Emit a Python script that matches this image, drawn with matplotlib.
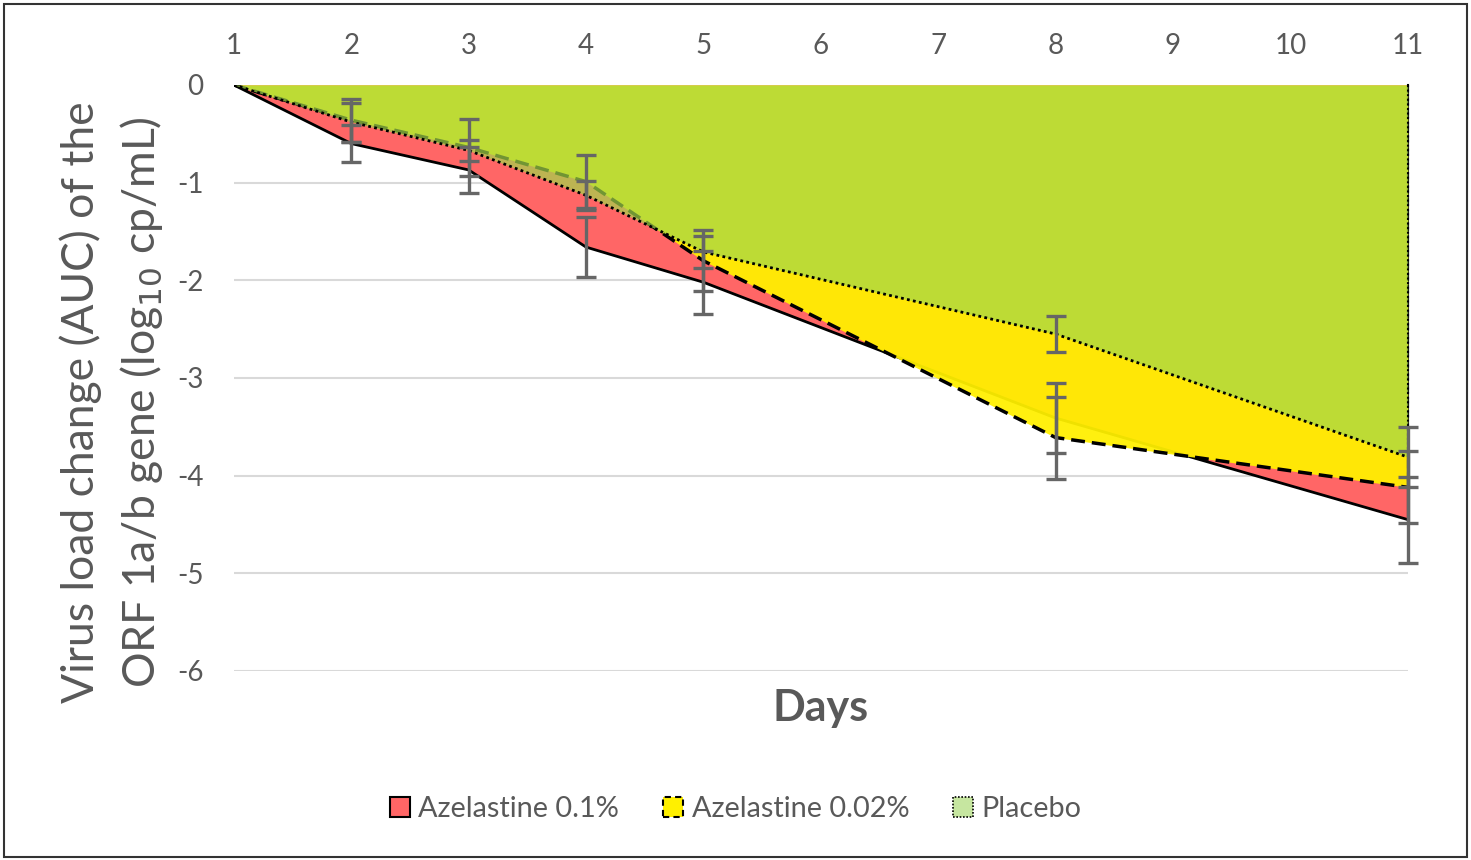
import matplotlib
matplotlib.use('Agg')
import matplotlib.pyplot as plt
from matplotlib.patches import Patch, Rectangle
import numpy as np

plt.rcParams['font.family'] = ['Lato', 'DejaVu Sans']
plt.rcParams['axes.unicode_minus'] = False

# viral load change per visit day (log10 cp/mL)
days = [1, 2, 3, 4, 5, 8, 11]
aze_01 = [0, -0.60, -0.87, -1.66, -2.02, -3.41, -4.45]
aze_01_err = [0, 0.19, 0.235, 0.31, 0.32, 0.36, 0.44]
aze_002 = [0, -0.36, -0.64, -0.99, -1.80, -3.61, -4.12]
aze_002_err = [0, 0.22, 0.29, 0.27, 0.31, 0.42, 0.37]
placebo = [0, -0.38, -0.67, -1.13, -1.71, -2.55, -3.81]
placebo_err = [0, 0.20, 0.11, 0.15, 0.16, 0.18, 0.31]

labels = ['Azelastine 0.1%', 'Azelastine 0.02%', 'Placebo']
x_ticks = list(range(1, 12))
y_ticks = [0, -1, -2, -3, -4, -5, -6]

grey = '#595959'
red = '#FF6666'
yellow = '#FFF000'
green = '#A2D64A'

fig = plt.figure(figsize=(14.71, 8.60), dpi=100)
ax = fig.add_axes([0.159, 0.2198, 0.798, 0.6814])

# stacked area look: red at the back, placebo on top (semi transparent)
ax.fill_between(days, 0, aze_01, color=red, lw=0, zorder=1)
ax.plot(days, aze_01, color='black', lw=2, zorder=1.5)
ax.plot([days[-1], days[-1]], [0, aze_01[-1]], color='black', lw=1.5,
        zorder=1.5, clip_on=False)

ax.fill_between(days, 0, aze_002, color=yellow, alpha=0.94, lw=0, zorder=2)
ax.plot(days, aze_002, color='black', lw=2.5, ls=(0, (4, 2)), zorder=2.5)
ax.plot([days[-1], days[-1]], [0, aze_002[-1]], color='black', lw=1.5,
        ls=(0, (4, 2)), zorder=2.5, clip_on=False)

ax.fill_between(days, 0, placebo, color=green, alpha=0.7, lw=0, zorder=3)
ax.plot(days, placebo, color='black', lw=2, ls=(0, (1, 1.2)), zorder=3.5)
ax.plot([days[-1], days[-1]], [0, placebo[-1]], color='black', lw=1.5,
        ls=(0, (1, 1.2)), zorder=3.5, clip_on=False)

# error bars (none at baseline)
for vals, errs in [(aze_01, aze_01_err), (aze_002, aze_002_err), (placebo, placebo_err)]:
    eb = ax.errorbar(days[1:], vals[1:], yerr=errs[1:], fmt='none', ecolor='#666666',
                     elinewidth=2.4, capsize=7, capthick=2.4, zorder=10)
    for art in eb.get_children():
        art.set_clip_on(False)

ax.set_xlim(1, 11)
ax.set_ylim(-6, 0)
ax.set_xticks(x_ticks)
ax.set_yticks(y_ticks)
ax.xaxis.tick_top()
ax.tick_params(axis='x', length=0, pad=19, labelsize=20, labelcolor=grey)
ax.tick_params(axis='y', length=0, pad=22, labelsize=20, labelcolor=grey)
ax.grid(axis='y', color='#D9D9D9', lw=1.5, zorder=0)
ax.set_axisbelow(True)
for s in ax.spines.values():
    s.set_visible(False)

ax.set_xlabel('Days', fontsize=31, fontweight='bold', color=grey, labelpad=12)
ax.xaxis.set_label_position('bottom')
fig.text(0.055, 0.532, 'Virus load change (AUC) of the', rotation=90,
         ha='center', va='center', fontsize=32, color=grey)
fig.text(0.096, 0.532, 'ORF 1a/b gene (log$_{10}$ cp/mL)', rotation=90,
         ha='center', va='center', fontsize=32, color=grey)

handles = [Patch(facecolor=red, edgecolor='black', lw=1.5),
           Patch(facecolor=yellow, edgecolor='black', lw=1.5, ls=(0, (3, 2))),
           Patch(facecolor='#C6E6A0', edgecolor='black', lw=1.2, ls=(0, (1, 1)))]
fig.legend(handles, labels, loc='center', bbox_to_anchor=(0.5, 0.059), ncol=3,
           frameon=False, fontsize=20.8, labelcolor=grey, handlelength=0.7,
           handleheight=0.7, handletextpad=0.3, columnspacing=1.5)

fig.patches.append(Rectangle((0.003, 0.003), 0.994, 0.992, transform=fig.transFigure,
                             fill=False, edgecolor='#333333', lw=1.5))

fig.savefig('out.png', dpi=100)
